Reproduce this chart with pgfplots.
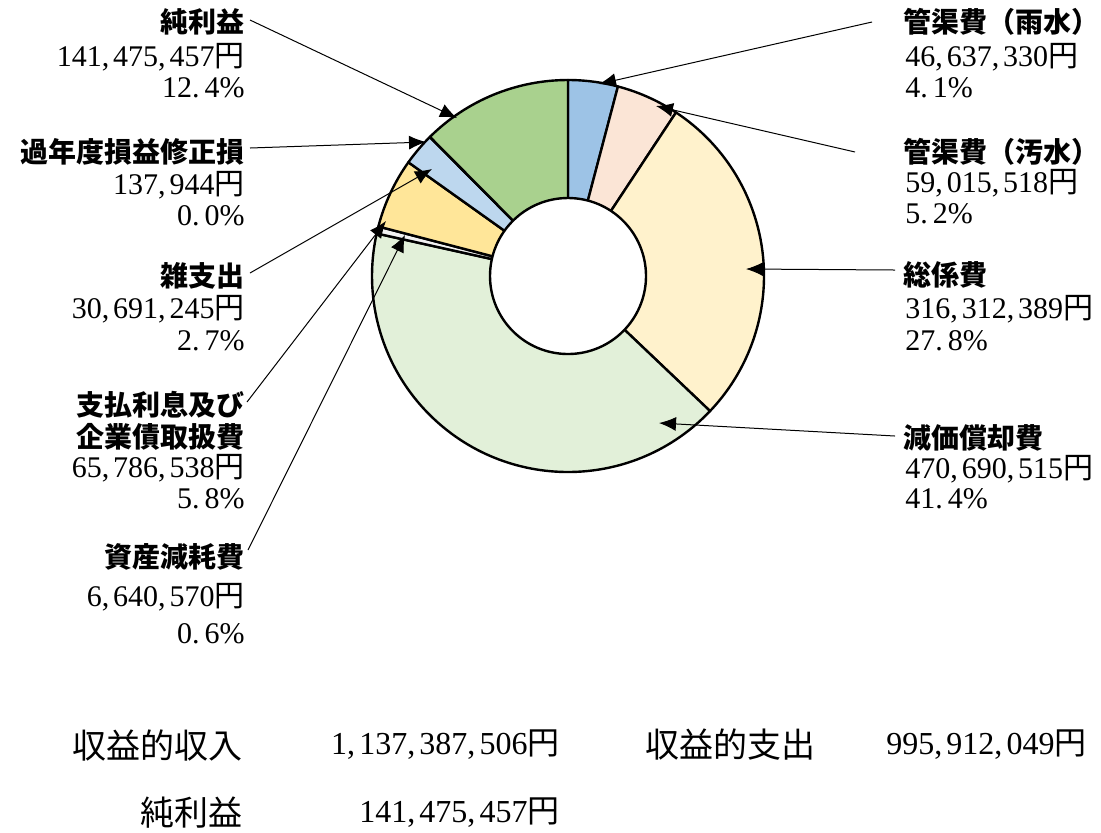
\documentclass[border=0pt]{standalone}
\usepackage{pgfplots}
\pgfplotsset{compat=1.18}
\usetikzlibrary{arrows.meta}
\usepackage{fontspec}
\setmainfont{Liberation Serif}
\newfontfamily\jp{Noto Sans CJK JP}
\newcommand\cm{\makebox[0.38em][l]{,}}
\newcommand\dt{\makebox[0.42em][l]{.}}
\newcommand\yen{{\jp 円}}
\definecolor{cA}{HTML}{9DC3E6}
\definecolor{cB}{HTML}{FBE5D6}
\definecolor{cC}{HTML}{FFF2CC}
\definecolor{cD}{HTML}{E2F0D9}
\definecolor{cE}{HTML}{F2F2F2}
\definecolor{cF}{HTML}{FFE699}
\definecolor{cG}{HTML}{BDD7EE}
\definecolor{cH}{HTML}{DDDDDD}
\definecolor{cI}{HTML}{A9D18E}
% values in millions of yen
\pgfmathsetmacro\vA{46.637330}
\pgfmathsetmacro\vB{59.015518}
\pgfmathsetmacro\vC{316.312389}
\pgfmathsetmacro\vD{470.690515}
\pgfmathsetmacro\vE{6.640570}
\pgfmathsetmacro\vF{65.786538}
\pgfmathsetmacro\vG{30.691245}
\pgfmathsetmacro\vH{0.137944}
\pgfmathsetmacro\vI{141.475457}
\pgfmathsetmacro\tot{\vA+\vB+\vC+\vD+\vE+\vF+\vG+\vH+\vI}
\pgfmathsetmacro\aA{90}
\pgfmathsetmacro\aB{\aA-\vA/\tot*360}
\pgfmathsetmacro\aC{\aB-\vB/\tot*360}
\pgfmathsetmacro\aD{\aC-\vC/\tot*360}
\pgfmathsetmacro\aE{\aD-\vD/\tot*360}
\pgfmathsetmacro\aF{\aE-\vE/\tot*360}
\pgfmathsetmacro\aG{\aF-\vF/\tot*360}
\pgfmathsetmacro\aH{\aG-\vG/\tot*360}
\pgfmathsetmacro\aI{\aH-\vH/\tot*360}
\pgfmathsetmacro\aJ{-270}
\newcommand\slice[3]{\filldraw[fill=#3,draw=black,line width=1.2pt,line join=round] (axis cs:568,276) -- ++(#1:98pt) arc[start angle=#1,end angle=#2,radius=98pt] -- cycle;}
\begin{document}
\begin{tikzpicture}[
  lab/.style={font=\jp\bfseries\fontsize{14pt}{16pt}\selectfont,inner sep=0pt},
  num/.style={font=\fontsize{15pt}{17pt}\selectfont,inner sep=0pt},
  arr/.style={-{Latex[length=8.5pt,width=7pt]},line width=0.5pt}]
\begin{axis}[x=0.5pt,y=0.5pt,xmin=0,xmax=1101,ymin=0,ymax=832,y dir=reverse,
  hide axis,clip=false,scale only axis]
\path (axis cs:0,0) rectangle (axis cs:1101,832);
\slice{\aA}{\aB}{cA}
\slice{\aB}{\aC}{cB}
\slice{\aC}{\aD}{cC}
\slice{\aD}{\aE}{cD}
\slice{\aE}{\aF}{cE}
\slice{\aF}{\aG}{cF}
\slice{\aG}{\aH}{cG}
\slice{\aH}{\aI}{cH}
\slice{\aI}{\aJ}{cI}
\filldraw[fill=white,draw=black,line width=1.2pt] (axis cs:568,276) circle[radius=39pt];
% arrows
\draw[arr] (axis cs:250,20) -- (axis cs:457,118);
\draw[arr] (axis cs:872,22) -- (axis cs:599,84);
\draw[arr] (axis cs:855,152) -- (axis cs:656,106);
\draw[arr] (axis cs:895,270) -- (axis cs:746,269);
\draw[arr] (axis cs:895,436) -- (axis cs:659,423);
\draw[arr] (axis cs:250,148) -- (axis cs:426,142);
\draw[arr] (axis cs:250,273) -- (axis cs:432,169);
\draw[arr] (axis cs:247,402) -- (axis cs:386,221);
\draw[arr] (axis cs:248,550) -- (axis cs:405,235);
% left labels
\node[lab,anchor=east] at (axis cs:245,22) {純利益};
\node[num,anchor=east] at (axis cs:245,57) {141\cm475\cm457\yen};
\node[num,anchor=east] at (axis cs:245,88) {12\dt4\%};
\node[lab,anchor=east] at (axis cs:245,152) {過年度損益修正損};
\node[num,anchor=east] at (axis cs:245,185) {137\cm944\yen};
\node[num,anchor=east] at (axis cs:245,216) {0\dt0\%};
\node[lab,anchor=east] at (axis cs:245,276) {雑支出};
\node[num,anchor=east] at (axis cs:245,309) {30\cm691\cm245\yen};
\node[num,anchor=east] at (axis cs:245,341) {2\dt7\%};
\node[lab,anchor=east] at (axis cs:245,405) {支払利息及び};
\node[lab,anchor=east] at (axis cs:245,437) {企業債取扱費};
\node[num,anchor=east] at (axis cs:245,468) {65\cm786\cm538\yen};
\node[num,anchor=east] at (axis cs:245,499) {5\dt8\%};
\node[lab,anchor=east] at (axis cs:245,557) {資産減耗費};
\node[num,anchor=east] at (axis cs:245,597) {6\cm640\cm570\yen};
\node[num,anchor=east] at (axis cs:245,634) {0\dt6\%};
% right labels
\node[lab,anchor=west] at (axis cs:903,22) {管渠費（雨水）};
\node[num,anchor=west] at (axis cs:905,57) {46\cm637\cm330\yen};
\node[num,anchor=west] at (axis cs:905,88) {4\dt1\%};
\node[lab,anchor=west] at (axis cs:903,152) {管渠費（汚水）};
\node[num,anchor=west] at (axis cs:905,183) {59\cm015\cm518\yen};
\node[num,anchor=west] at (axis cs:905,214) {5\dt2\%};
\node[lab,anchor=west] at (axis cs:903,275) {総係費};
\node[num,anchor=west] at (axis cs:905,309) {316\cm312\cm389\yen};
\node[num,anchor=west] at (axis cs:905,341) {27\dt8\%};
\node[lab,anchor=west] at (axis cs:903,438) {減価償却費};
\node[num,anchor=west] at (axis cs:905,469) {470\cm690\cm515\yen};
\node[num,anchor=west] at (axis cs:905,499) {41\dt4\%};
% bottom summary
\node[inner sep=0pt,anchor=east,font=\jp\fontsize{17pt}{19pt}\selectfont] at (axis cs:243,745) {収益的収入};
\node[inner sep=0pt,anchor=east,font=\fontsize{16pt}{18pt}\selectfont] at (axis cs:560,745) {1\cm137\cm387\cm506\yen};
\node[inner sep=0pt,anchor=west,font=\jp\fontsize{17pt}{19pt}\selectfont] at (axis cs:645,745) {収益的支出};
\node[inner sep=0pt,anchor=east,font=\fontsize{16pt}{18pt}\selectfont] at (axis cs:1087,745) {995\cm912\cm049\yen};
\node[inner sep=0pt,anchor=east,font=\jp\fontsize{17pt}{19pt}\selectfont] at (axis cs:243,813) {純利益};
\node[inner sep=0pt,anchor=east,font=\fontsize{16pt}{18pt}\selectfont] at (axis cs:560,813) {141\cm475\cm457\yen};
\end{axis}
\end{tikzpicture}
\end{document}
